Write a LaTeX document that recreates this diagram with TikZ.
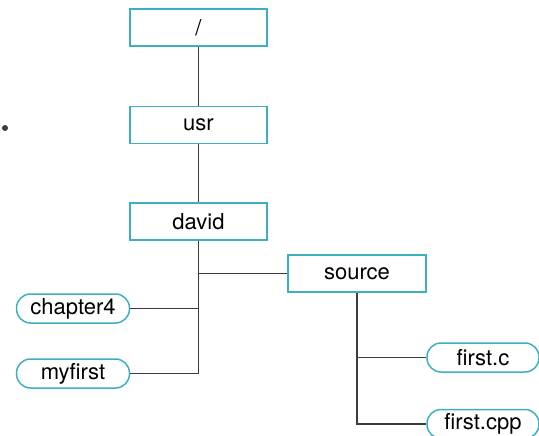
\documentclass[tikz,border=0pt]{standalone}
\usepackage{fontspec}
\setmainfont{TeX Gyre Heros}
\definecolor{boxteal}{HTML}{3DB0C0}
\definecolor{linegray}{HTML}{3C3C3C}
\begin{document}
\begin{tikzpicture}[x=1pt,y=-1pt,
  dirbox/.style={draw=boxteal,line width=1.5pt,fill=white,minimum width=137pt,minimum height=37pt,inner sep=0pt,font=\fontsize{22}{25}\selectfont},
  filebox/.style={draw=boxteal,line width=1.5pt,fill=white,rounded corners=14pt,minimum width=113pt,minimum height=29pt,inner sep=0pt,font=\fontsize{22}{25}\selectfont},
  conn/.style={draw=linegray,line width=1.7pt}]
\useasboundingbox (0,0) rectangle (539,436);
\fill[linegray] (5,128) circle (3pt);
\node[dirbox] (root) at (198.5,27.5) {/};
\node[dirbox] (usr) at (198.5,125) {usr};
\node[dirbox] (david) at (198.5,221.5) {david};
\node[dirbox,minimum width=138pt] (source) at (357,273.5) {source};
\node[filebox] (chapter4) at (73,308.5) {chapter4};
\node[filebox] (myfirst) at (73,373.5) {myfirst};
\node[filebox,minimum width=112pt] (firstc) at (483,357.5) {first.c};
\node[filebox,minimum width=112pt] (firstcpp) at (483,424) {first.cpp};
\draw[conn] (root.south) -- (usr.north);
\draw[conn] (usr.south) -- (david.north);
\draw[conn] (david.south) |- (myfirst.east);
\draw[conn] (chapter4.east) -- (chapter4.east -| david.south);
\draw[conn] (source.west) -- (source.west -| david.south);
\draw[conn] (source.south) |- (firstcpp.west);
\draw[conn] (firstc.west) -- (firstc.west -| source.south);
\end{tikzpicture}
\end{document}
